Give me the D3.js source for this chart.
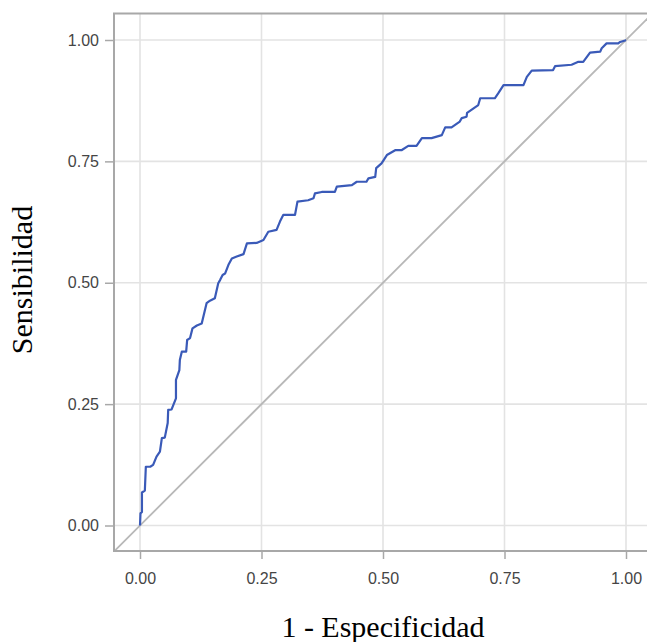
<!DOCTYPE html>
<html>
<head>
<meta charset="utf-8">
<script src="https://cdn.jsdelivr.net/npm/d3@7"></script>
<style>
  body { margin: 0; background: #fff; }
  svg { display: block; }
</style>
</head>
<body>
<svg width="647" height="642"></svg>
<script>
// ROC curve: false positive rate / true positive rate
const fpr = [0.000, 0.001, 0.004, 0.004, 0.010, 0.012, 0.021, 0.027, 0.034, 0.041,
  0.045, 0.051, 0.057, 0.058, 0.065, 0.074, 0.074, 0.081, 0.082, 0.086,
  0.095, 0.097, 0.103, 0.108, 0.117, 0.127, 0.137, 0.144, 0.154, 0.161,
  0.165, 0.170, 0.175, 0.182, 0.189, 0.199, 0.213, 0.220, 0.240, 0.254,
  0.264, 0.281, 0.288, 0.295, 0.319, 0.324, 0.346, 0.357, 0.360, 0.374,
  0.401, 0.405, 0.436, 0.446, 0.466, 0.470, 0.484, 0.486, 0.497, 0.508,
  0.525, 0.538, 0.552, 0.569, 0.580, 0.600, 0.621, 0.628, 0.641, 0.658,
  0.662, 0.672, 0.673, 0.696, 0.700, 0.730, 0.737, 0.748, 0.789, 0.796,
  0.806, 0.850, 0.854, 0.888, 0.902, 0.912, 0.926, 0.947, 0.950, 0.960,
  0.984, 0.988, 0.998, 1.000];
const tpr = [0.000, 0.025, 0.028, 0.068, 0.072, 0.121, 0.121, 0.125, 0.142, 0.152,
  0.180, 0.181, 0.211, 0.238, 0.239, 0.262, 0.300, 0.320, 0.341, 0.358,
  0.358, 0.382, 0.386, 0.406, 0.412, 0.416, 0.458, 0.463, 0.468, 0.499,
  0.506, 0.516, 0.519, 0.537, 0.550, 0.554, 0.559, 0.581, 0.582, 0.588,
  0.605, 0.609, 0.626, 0.640, 0.640, 0.667, 0.670, 0.674, 0.684, 0.687,
  0.687, 0.698, 0.701, 0.708, 0.708, 0.715, 0.718, 0.736, 0.746, 0.763,
  0.773, 0.773, 0.782, 0.782, 0.798, 0.798, 0.804, 0.820, 0.820, 0.832,
  0.839, 0.842, 0.850, 0.866, 0.880, 0.880, 0.890, 0.907, 0.907, 0.924,
  0.937, 0.938, 0.946, 0.949, 0.955, 0.955, 0.974, 0.976, 0.983, 0.993,
  0.993, 0.996, 0.999, 1.000];

const ticks = [0, 0.25, 0.5, 0.75, 1];
const tickLabels = ["0.00", "0.25", "0.50", "0.75", "1.00"];

const svg = d3.select("svg");

// panel edges in pixels
const pLeft = 114, pTop = 13.5, pRight = 655, pBottom = 551;

let x = d3.scaleLinear().domain([0, 1]).range([140, 626]);
let y = d3.scaleLinear().domain([0, 1]).range([525.5, 40]);

svg.append("defs").append("clipPath").attr("id", "panel")
  .append("rect")
    .attr("x", pLeft).attr("y", pTop)
    .attr("width", pRight - pLeft).attr("height", pBottom - pTop);

// grid
let grid = svg.append("g").attr("id", "grid")
  .attr("stroke", "#e3e3e3").attr("stroke-width", 1.6);

grid.selectAll("line.v").data(ticks).enter()
  .append("line").attr("class", "v")
    .attr("x1", d => x(d)).attr("x2", d => x(d))
    .attr("y1", pTop).attr("y2", pBottom);

grid.selectAll("line.h").data(ticks).enter()
  .append("line").attr("class", "h")
    .attr("y1", d => y(d)).attr("y2", d => y(d))
    .attr("x1", pLeft).attr("x2", pRight);

// reference diagonal
let plot = svg.append("g").attr("clip-path", "url(#panel)");

plot.append("line")
  .attr("x1", x(-0.2)).attr("y1", y(-0.2))
  .attr("x2", x(1.2)).attr("y2", y(1.2))
  .attr("stroke", "#b8b8b8").attr("stroke-width", 1.8);

// roc curve
let pts = fpr.map((f, i) => [f, tpr[i]]);
let line = d3.line().x(d => x(d[0])).y(d => y(d[1]));

plot.append("path")
  .datum(pts)
  .attr("d", line)
  .attr("fill", "none")
  .attr("stroke", "#3a5ab8")
  .attr("stroke-width", 2.2)
  .attr("stroke-linejoin", "round");

// frame
svg.append("rect")
  .attr("x", pLeft).attr("y", pTop)
  .attr("width", pRight - pLeft).attr("height", pBottom - pTop)
  .attr("fill", "none").attr("stroke", "#a8a8a8").attr("stroke-width", 2);

// axes
let xAxis = d3.axisBottom(x).tickValues(ticks)
  .tickFormat((d, i) => tickLabels[i]).tickSize(7).tickPadding(14);
let yAxis = d3.axisLeft(y).tickValues(ticks)
  .tickFormat((d, i) => tickLabels[i]).tickSize(8).tickPadding(6);

let gx = svg.append("g").attr("transform", `translate(0,${pBottom + 1})`).call(xAxis);
let gy = svg.append("g").attr("transform", `translate(${pLeft - 1},0)`).call(yAxis);

[gx, gy].forEach(g => {
  g.select(".domain").remove();
  g.selectAll(".tick line").attr("stroke", "#a8a8a8").attr("stroke-width", 1.5);
  g.selectAll(".tick text")
    .attr("fill", "#454545")
    .style("font-family", "'Liberation Sans', Arial, sans-serif")
    .style("font-size", "16px");
});

// axis titles
svg.append("text")
  .attr("x", 383).attr("y", 637)
  .attr("text-anchor", "middle")
  .style("font-family", "'Liberation Serif', 'Times New Roman', serif")
  .style("font-size", "30px")
  .attr("fill", "#000")
  .text("1 - Especificidad");

svg.append("text")
  .attr("transform", "translate(32,280) rotate(-90)")
  .attr("text-anchor", "middle")
  .style("font-family", "'Liberation Serif', 'Times New Roman', serif")
  .style("font-size", "30px")
  .attr("fill", "#000")
  .text("Sensibilidad");
</script>
</body>
</html>
